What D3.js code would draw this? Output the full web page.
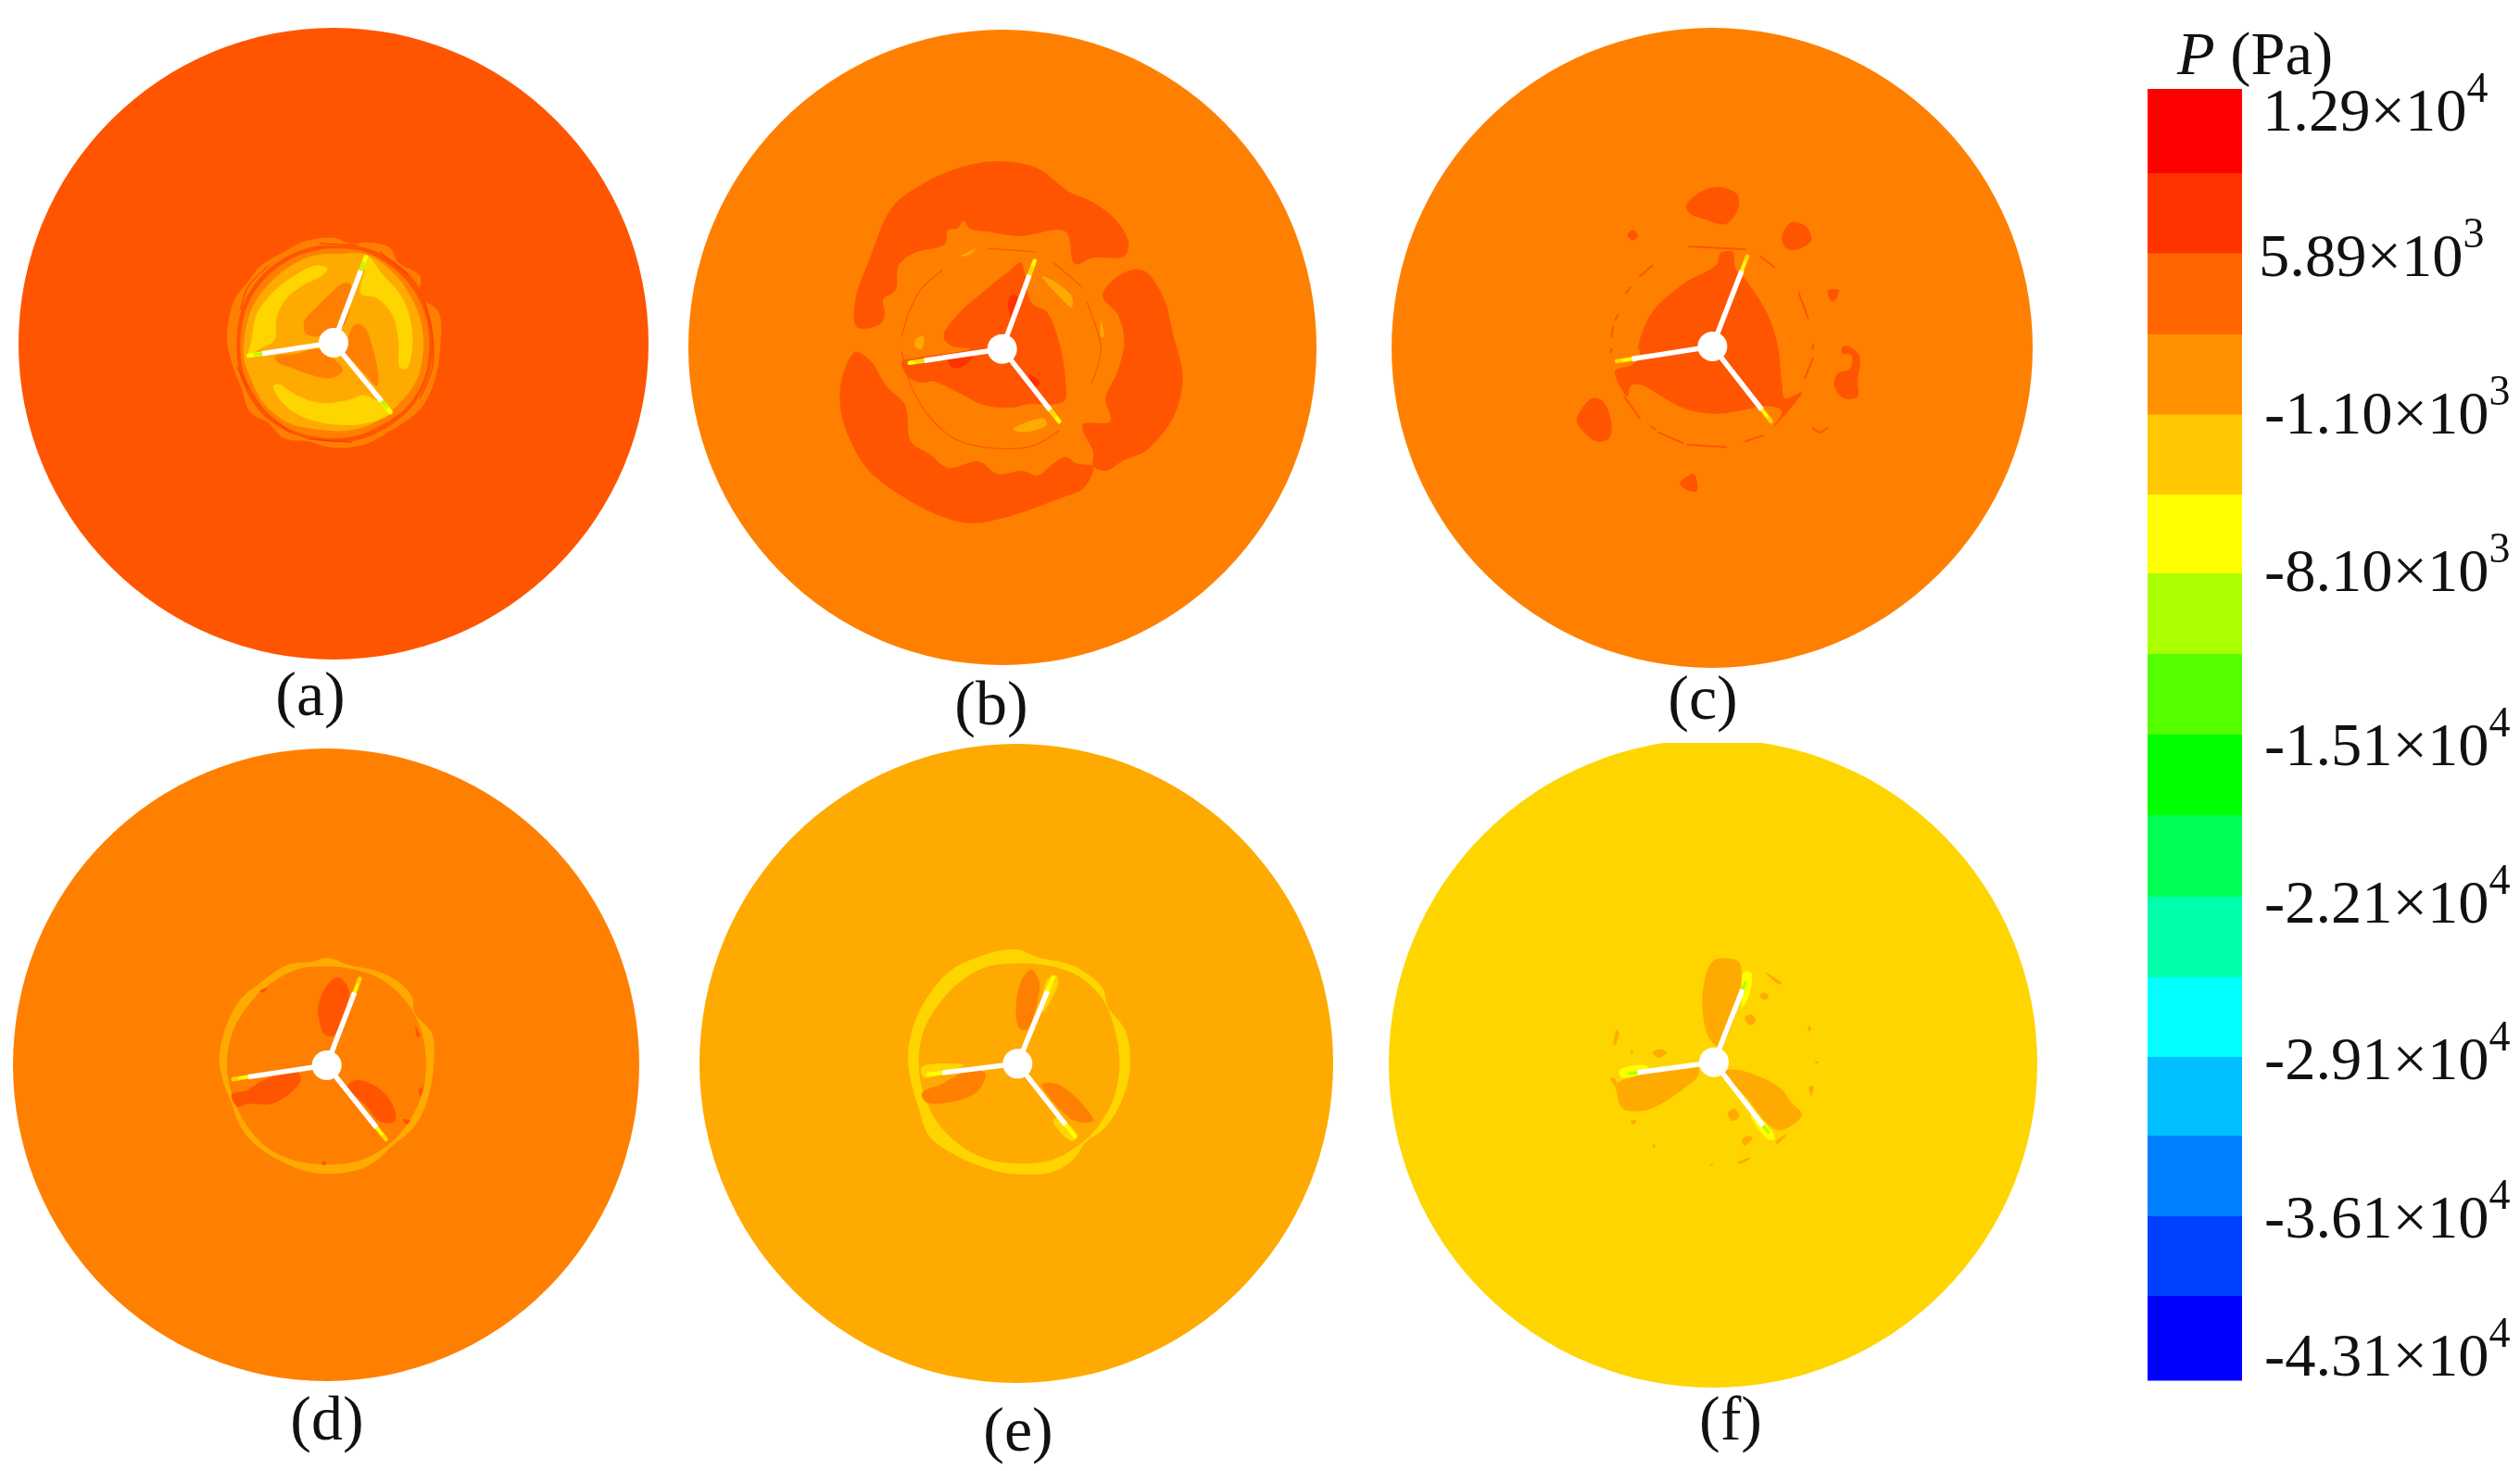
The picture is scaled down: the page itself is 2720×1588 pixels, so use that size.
<!DOCTYPE html>
<html><head><meta charset="utf-8">
<script src="https://cdn.jsdelivr.net/npm/d3@7"></script>
<style>html,body{margin:0;background:#fff}svg{display:block;filter:blur(.6px)}text{font-family:"Liberation Serif","Times New Roman",serif;fill:#111}</style>
</head><body><svg id="c" width="2720" height="1588"></svg>
<script>
// ---------- colour levels ----------
const legendColors=["#ff0000","#ff3300","#ff6600","#ff9100","#ffc800","#ffff00","#aaff00","#55ff00","#00ff00","#00ff55","#00ffaa","#00ffff","#00bfff","#0080ff","#0040ff","#0000ff"];
const tickValues=[12900,5890,-1100,-8100,-15100,-22100,-29100,-36100,-43100];
const tickMantissa=["1.29","5.89","-1.10","-8.10","-1.51","-2.21","-2.91","-3.61","-4.31"];
const tickExponent=["4","3","3","3","4","4","4","4","4"];
const L1="#ff3300",L2="#ff5500",L3="#ff8000",L4="#ffaa00",L5="#ffd500",L6="#ffff00",L7="#aaff00";

// ---------- contours (grid units of each panel) ----------
const aOuter=[[540,170],[600,190],[640,185],[720,200],[750,250],[820,295],[820,360],[880,410],[885,530],[865,640],[825,720],[780,760],[700,810],[640,840],[540,850],[460,830],[380,820],[330,770],[270,735],[240,650],[215,590],[195,490],[220,370],[265,310],[300,265],[390,210],[450,180]];
const aDark=[[545,195],[650,205],[740,250],[810,320],[850,420],[862,510],[850,610],[800,710],[720,780],[620,825],[520,830],[420,810],[330,760],[265,680],[232,590],[228,480],[250,380],[310,290],[400,225],[480,198]];
const aMid=[[545,205],[640,215],[730,265],[800,340],[840,430],[850,520],[835,620],[780,715],[700,775],[610,812],[510,818],[410,795],[330,740],[275,665],[245,590],[240,480],[265,380],[320,300],[410,235],[480,212]];
const aPale=[[560,222],[650,225],[735,285],[790,360],[825,450],[830,540],[810,630],[750,710],[670,770],[580,795],[480,790],[385,765],[310,700],[270,620],[250,560],[255,470],[280,390],[340,310],[420,250],[490,225]];
const aCres1=[[265,550],[275,500],[290,420],[340,350],[410,295],[480,260],[520,270],[500,295],[440,325],[385,370],[355,430],[350,500],[300,530]];
const aCres2=[[650,230],[640,280],[628,350],[680,365],[730,420],[750,500],[755,590],[775,595],[795,530],[790,440],[760,360],[700,290]];
const aCres3=[[345,650],[365,645],[420,680],[500,705],[590,695],[640,680],[725,735],[650,770],[540,775],[440,750],[380,710]];
const aIn1=[[565,320],[595,320],[570,460],[530,465],[490,490],[450,480],[445,440],[480,400],[530,350]];
const aIn2=[[610,450],[640,460],[665,520],[685,620],[680,650],[640,610],[590,560],[570,555],[585,500]];
const aIn3=[[350,555],[420,545],[490,530],[550,570],[570,600],[530,625],[470,615],[400,590],[360,575]];
const aRed=[[[228,590],[262,655]],[[835,380],[858,470],[860,590],[820,690]],[[495,188],[620,195]],[[460,822],[600,832]],[[330,260],[262,330],[240,400]],[[345,760],[400,800]],[[690,215],[780,290]]];

const bTop=[[195,610],[190,520],[235,390],[310,220],[400,150],[520,95],[650,72],[780,95],[880,170],[960,205],[1040,270],[1075,340],[1060,380],[960,385],[900,405],[870,300],[720,315],[620,300],[560,290],[540,265],[520,290],[490,295],[480,340],[380,370],[330,410],[320,490],[280,520],[285,570],[270,600]];
const bRight=[[990,510],[1010,470],[1080,425],[1130,430],[1190,520],[1220,640],[1250,770],[1220,900],[1130,1010],[1060,1040],[1000,1075],[960,1060],[960,1015],[925,925],[1015,915],[1000,840],[1040,750],[1060,650],[1040,570]];
const bLow=[[190,690],[150,760],[140,860],[170,970],[230,1070],[330,1150],[450,1215],[560,1245],[680,1225],[850,1165],[930,1130],[960,1075],[960,1060],[905,1050],[870,1030],[820,1060],[780,1090],[730,1075],[650,1085],[590,1045],[490,1065],[430,1020],[370,980],[350,860],[290,800],[240,720]];
const bCore=[[475,640],[520,570],[610,490],[685,430],[725,400],[735,420],[760,530],[810,560],[850,660],[870,780],[865,850],[740,860],[700,870],[600,860],[530,825],[440,785],[410,790],[360,770],[340,720],[380,710],[560,680],[500,670]];
const bRed1=[[690,510],[715,510],[700,590],[685,550]],bRed2=[[490,715],[570,705],[530,740],[500,738]],bRed3=[[750,760],[790,790],[770,805]];
const bPale1=[[795,445],[830,460],[890,510],[890,545],[850,510]],bPale2=[[700,940],[800,905],[810,925],[740,950]],bPale3=[[385,650],[410,640],[405,680],[385,675]],bPale4=[[985,590],[995,640],[985,640]],bPale5=[[530,380],[580,355],[560,375]];
const bRing=[[[340,640],[360,570],[400,490],[470,425]],[[620,355],[770,365]],[[830,400],[925,480]],[[940,530],[985,680],[955,790]],[[340,690],[370,800],[430,900],[520,975],[640,1002],[760,995],[850,945]]];

const cCore=[[385,585],[430,470],[530,380],[640,315],[650,280],[690,275],[700,330],[735,370],[800,470],[835,570],[850,700],[860,750],[915,730],[880,780],[820,845],[850,790],[790,775],[740,785],[640,800],[540,785],[470,750],[390,705],[360,710],[350,745],[320,700],[310,660],[370,640],[390,600]];
const cB1=[[540,125],[590,80],[650,65],[705,90],[710,130],[670,185],[600,170],[550,150]],cB2=[[850,225],[880,180],[930,195],[945,240],[890,270],[860,260]],cB3=[[350,222],[368,205],[385,222],[368,238]],cB4=[[1000,400],[1035,400],[1020,435],[1005,430]],cB5=[[1045,585],[1060,580],[1100,610],[1095,700],[1095,745],[1050,750],[1020,710],[1030,670],[1070,655],[1075,610],[1045,605]],cB6=[[185,820],[235,750],[270,760],[298,830],[290,880],[250,890],[200,850]],cB7=[[520,1025],[565,995],[575,1050],[550,1050]];
const cRing=[[[390,355],[430,320]],[[345,410],[360,390]],[[310,495],[320,480]],[[298,550],[303,520]],[[295,600],[300,590]],[[780,290],[825,325]],[[905,410],[935,490]],[[950,575],[950,590]],[[950,620],[925,685]],[[340,745],[390,815]],[[425,840],[440,850]],[[450,860],[530,895]],[[545,900],[670,908]],[[730,890],[790,870]],[[950,845],[970,860],[998,845]],[[550,258],[730,268]]];

const dOuter=[[430,72],[500,95],[590,115],[660,150],[705,200],[712,250],[770,320],[775,410],[760,510],[725,600],[680,650],[640,680],[600,720],[540,755],[430,772],[350,760],[270,725],[200,680],[150,620],[115,530],[95,480],[80,400],[100,300],[150,205],[210,155],[300,95],[380,85]];
const dInner=[[428,100],[520,110],[610,145],[690,220],[735,310],[750,420],[735,520],[690,610],[625,680],[530,730],[430,742],[330,730],[240,690],[165,610],[120,510],[105,420],[120,320],[170,230],[240,160],[330,110]];
const dP1=[[400,230],[430,160],[465,135],[498,170],[495,220],[465,300],[450,325],[420,320],[405,280]],dP2=[[120,515],[170,500],[230,465],[330,440],[345,465],[310,510],[250,545],[170,545],[140,555]],dP3=[[495,490],[520,468],[590,490],[640,545],[650,600],[600,603],[555,550]];
const dSpot=[[[675,595],[698,600],[685,612]],[[715,295],[730,325],[722,330]],[[725,500],[740,490],[732,520]],[[210,180],[235,170],[222,185]],[[410,735],[425,732],[420,745]]];

const eOuter=[[410,75],[480,100],[600,130],[690,200],[708,262],[765,340],[778,470],[740,590],[690,660],[635,700],[600,750],[530,795],[400,802],[320,785],[220,745],[130,680],[95,590],[60,430],[90,290],[190,150],[300,95]];
const eInner=[[420,120],[520,128],[610,160],[690,235],[730,335],[745,444],[730,545],[685,635],[625,700],[530,755],[420,768],[320,755],[230,710],[155,635],[110,540],[95,444],[110,340],[165,245],[235,175],[320,130]];
const eP1=[[410,250],[430,170],[460,140],[485,180],[480,240],[445,335],[420,330]],eP2=[[105,540],[170,510],[250,470],[310,475],[290,530],[220,565],[120,570]],eP3=[[495,512],[540,510],[600,550],[660,630],[600,630],[550,590]];
const eG1=[[510,175],[540,160],[545,190],[505,270],[495,280]],eG2=[[105,455],[240,450],[130,490],[110,490]],eG3=[[530,630],[550,620],[610,680],[590,695]];

const fP1=[[385,170],[420,80],[500,85],[510,130],[505,200],[440,360],[410,340],[390,290]],fP2=[[105,480],[230,440],[365,420],[370,450],[330,490],[240,550],[190,568],[125,560],[105,510]],fP3=[[455,440],[500,435],[630,490],[670,540],[705,580],[640,630],[600,615],[530,530]];
const fSpots=[[[568,192],[585,185],[598,200],[580,208]],[[520,265],[540,255],[555,275],[535,290]],[[222,378],[245,368],[268,378],[240,395]],[[465,575],[485,560],[502,585],[480,600]],[[510,665],[530,648],[545,655],[520,680]],[[620,668],[660,640],[640,662],[625,675]],[[495,735],[540,718],[530,728],[500,738]],[[728,290],[735,305],[725,310]],[[728,490],[742,488],[735,520]],[[95,350],[105,305],[112,315],[100,355]],[[85,460],[105,470],[100,490]],[[150,600],[168,598],[160,612]],[[222,675],[232,680],[225,687]],[[585,118],[640,155],[630,158]],[[748,408],[760,410],[750,415]],[[150,372],[158,372],[155,385]],[[405,740],[420,742],[410,746]]];
const fY1=[[515,120],[540,120],[535,190],[510,235],[510,200]],fY2=[[115,435],[200,420],[210,435],[120,460]],fY3=[[540,585],[550,580],[615,650],[600,662]];
const fG1=[[515,155],[524,155],[518,190]],fG2=[[135,443],[175,438],[140,452]],fG3=[[560,600],[568,598],[600,640]];

// ---------- panels ----------
const panelNames=["(a)","(b)","(c)","(d)","(e)","(f)"];
const baseColors=[L2,L3,L3,L3,L4,L5];
const hubs=[[540,510],[665,680],[625,582],[428,420],[415,445],[420,410]];
const bladeTips=[[[645,232],[265,552],[725,735]],[[770,395],[365,725],[850,915]],[[738,290],[315,630],[815,825]],[[535,140],[125,465],[620,660]],[[530,165],[125,480],[600,680]],[[530,130],[125,450],[610,655]]];
const tipColors=[[L6,L7],[L6,L5],[L5,L6],[L5,L6],[L6,L6],[L6,L7]];
const panelFills=[
 [[L3,aOuter],[L2,aDark],[L3,aMid],[L4,aPale],[L5,aCres1],[L5,aCres2],[L5,aCres3],[L3,aIn1],[L3,aIn2],[L3,aIn3]],
 [[L2,bTop],[L2,bRight],[L2,bLow],[L2,bCore],[L1,bRed1],[L1,bRed2],[L1,bRed3],[L4,bPale1],[L4,bPale2],[L4,bPale3],[L4,bPale4],[L4,bPale5]],
 [[L2,cCore],[L2,cB1],[L2,cB2],[L2,cB3],[L2,cB4],[L2,cB5],[L2,cB6],[L2,cB7]],
 [[L4,dOuter],[L3,dInner],[L2,dP1],[L2,dP2],[L2,dP3],...dSpot.map(s=>[L2,s])],
 [[L5,eOuter],[L4,eInner],[L3,eP1],[L3,eP2],[L3,eP3],[L5,eG1],[L5,eG2],[L5,eG3]],
 [[L4,fP1],[L4,fP2],[L4,fP3],...fSpots.map(s=>[L4,s]),[L6,fY1],[L6,fY2],[L6,fY3],[L7,fG1],[L7,fG2],[L7,fG3]]
];
const panelStrokes=[[L1,aRed,1],[L2,bRing,1.2],[L2,cRing,2],null,null,null];

// ---------- layout ----------
const diskBox=[[360,371,340,341],[1082,375,339,343],[1848,375.5,346,345.5],[352,1149.5,338,341.5],[1097,1148,342,345],[1849,1148,350,350]];
const gridBox=[[180,200,360],[860,150,460],[1640,180,400],[210,1010,280],[960,1000,290],[1710,1010,280]];
const labelPos=[[335,772],[1070,782],[1838,776],[353,1554],[1099,1566],[1868,1554]];
const bar={x:2318,w:102};
const bandEdges=[96,187,273.5,361,447.5,534,619,706,793,880,968,1055,1141,1226,1313,1399,1490];
const tickBaselines=[141,298,468,638,826,996,1165,1336,1485];
const tickX=[2442,2438,2444,2444,2444,2444,2444,2444,2444];
const FONT=66.5,SUP=46,LABEL=68;

const svg=d3.select("#c");
svg.append("defs").append("clipPath").attr("id","clipTop").append("rect").attr("x",0).attr("y",802).attr("width",2720).attr("height",786);
const closed=d3.line().curve(d3.curveCatmullRomClosed.alpha(.5));
const open=d3.line().curve(d3.curveCatmullRom.alpha(.5));

panelNames.forEach((name,i)=>{
  const [dx,dy,rx,ry]=diskBox[i],[gx,gy,gw]=gridBox[i];
  const x=d3.scaleLinear().domain([0,gw*3]).range([gx,gx+gw]);
  const y=d3.scaleLinear().domain([0,gw*3]).range([gy,gy+gw]);
  const P=p=>[x(p[0]),y(p[1])];
  const g=svg.append("g").attr("class","panel");
  if(i>=3) g.attr("clip-path","url(#clipTop)");
  g.append("ellipse").attr("cx",dx).attr("cy",dy).attr("rx",rx).attr("ry",ry).attr("fill",baseColors[i]);
  g.selectAll("path.fill").data(panelFills[i]).join("path").attr("class","fill")
    .attr("d",d=>closed(d[1].map(P))).attr("fill",d=>d[0]);
  if(panelStrokes[i]){
    const [c,segs,w]=panelStrokes[i];
    g.selectAll("path.ring").data(segs).join("path").attr("class","ring")
      .attr("d",d=>open(d.map(P))).attr("fill","none").attr("stroke",c).attr("stroke-width",w).attr("stroke-linecap","round");
  }
  const hub=P(hubs[i]);
  bladeTips[i].forEach(t=>{
    const tip=P(t);
    const lerp=k=>[hub[0]+(tip[0]-hub[0])*k,hub[1]+(tip[1]-hub[1])*k];
    g.append("path").attr("d",d3.line()([lerp(.62),tip])).attr("stroke",tipColors[i][0]).attr("stroke-width",4.5).attr("stroke-linecap","round");
    g.append("path").attr("d",d3.line()([lerp(.72),lerp(.94)])).attr("stroke",tipColors[i][1]).attr("stroke-width",3);
    g.append("path").attr("d",d3.line()([hub,lerp(.84)])).attr("stroke","#fff").attr("stroke-width",5.5);
  });
  g.append("circle").attr("cx",hub[0]).attr("cy",hub[1]).attr("r",16).attr("fill","#fff");
  svg.append("text").attr("x",labelPos[i][0]).attr("y",labelPos[i][1]).attr("text-anchor","middle").attr("font-size",LABEL).text(name);
});

// colour bar
const by=d3.scaleLinear().domain(d3.range(bandEdges.length)).range(bandEdges);
svg.append("g").selectAll("rect").data(legendColors).join("rect")
  .attr("x",bar.x).attr("width",bar.w).attr("y",(d,i)=>by(i)).attr("height",(d,i)=>by(i+1)-by(i)+.5).attr("fill",d=>d);
const ty=d3.scaleLinear().domain(tickValues).range(tickBaselines);
const tick=svg.append("g").selectAll("text").data(tickValues).join("text")
  .attr("x",(d,i)=>tickX[i]).attr("y",d=>ty(d)).attr("font-size",FONT);
tick.append("tspan").text((d,i)=>tickMantissa[i]+"×10");
tick.append("tspan").attr("dy",-31).attr("font-size",SUP).text((d,i)=>tickExponent[i]);
const title=svg.append("text").attr("x",2350).attr("y",80).attr("font-size",FONT);
title.append("tspan").attr("font-style","italic").text("P");
title.append("tspan").text(" (Pa)");
</script></body></html>
